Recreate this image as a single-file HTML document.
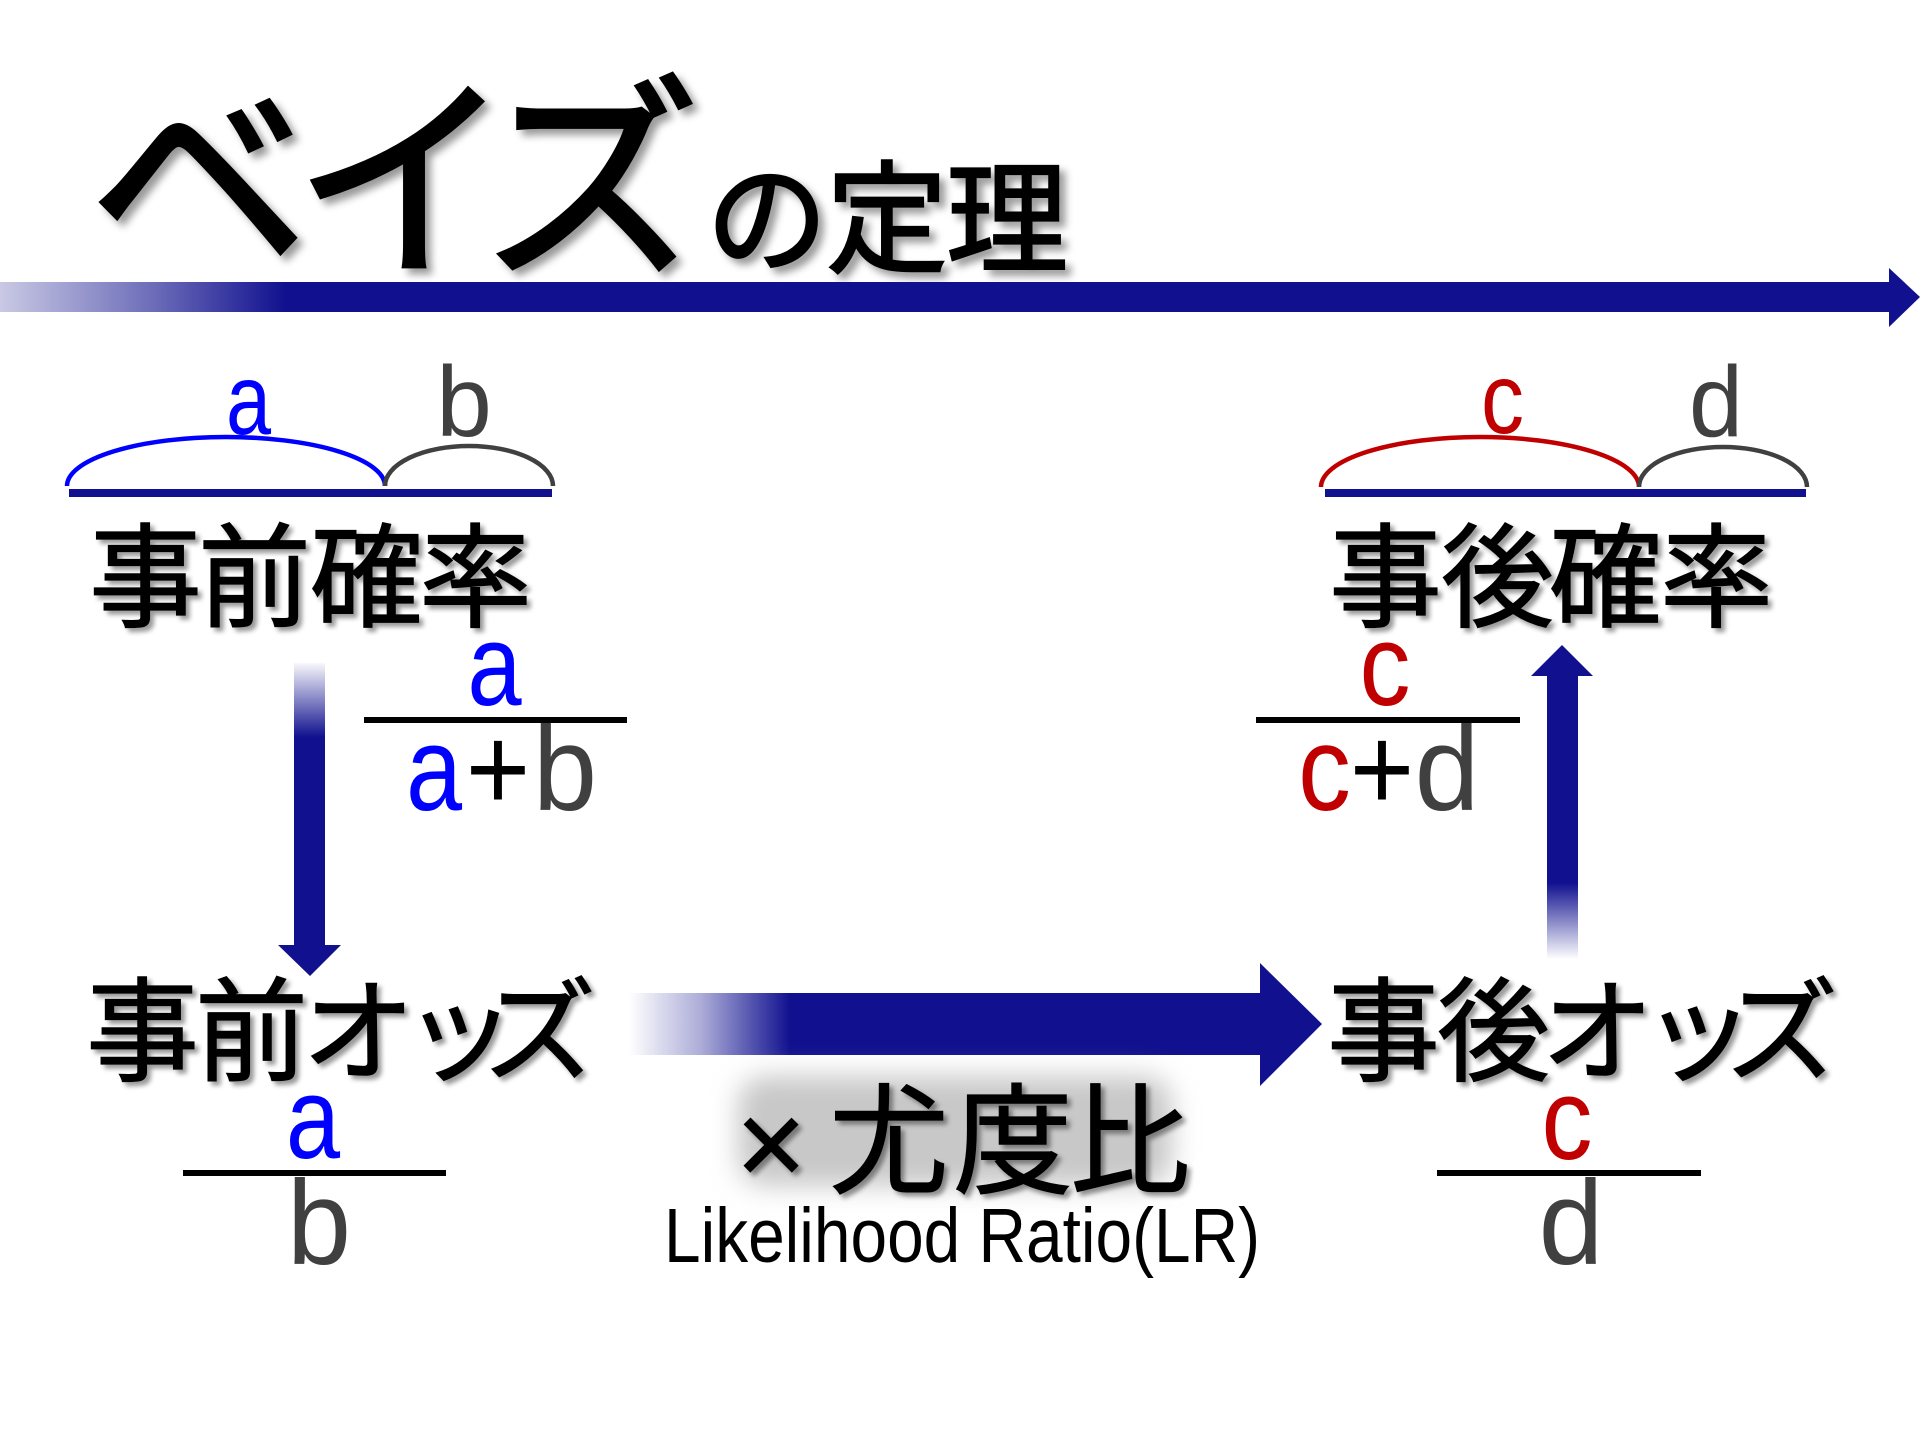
<!DOCTYPE html>
<html>
<head>
<meta charset="utf-8">
<style>
  html,body{margin:0;padding:0;background:#fff;}
  svg{display:block;}
  .lt{font-family:"Liberation Sans",sans-serif;}
</style>
</head>
<body>
<svg width="1920" height="1440" viewBox="0 0 1920 1440" xmlns="http://www.w3.org/2000/svg">
  <defs>
    <linearGradient id="gT" gradientUnits="userSpaceOnUse" x1="0" y1="0" x2="285" y2="0">
      <stop offset="0" stop-color="#c9c9e4"/>
      <stop offset="0.55" stop-color="#6a6ab8"/>
      <stop offset="1" stop-color="#11118f"/>
    </linearGradient>
    <linearGradient id="gH" gradientUnits="userSpaceOnUse" x1="629" y1="0" x2="790" y2="0">
      <stop offset="0" stop-color="#11118f" stop-opacity="0"/>
      <stop offset="0.45" stop-color="#11118f" stop-opacity="0.35"/>
      <stop offset="1" stop-color="#11118f" stop-opacity="1"/>
    </linearGradient>
    <linearGradient id="gD" gradientUnits="userSpaceOnUse" x1="0" y1="663" x2="0" y2="737">
      <stop offset="0" stop-color="#11118f" stop-opacity="0.03"/>
      <stop offset="1" stop-color="#11118f" stop-opacity="1"/>
    </linearGradient>
    <linearGradient id="gU" gradientUnits="userSpaceOnUse" x1="0" y1="957" x2="0" y2="883">
      <stop offset="0" stop-color="#11118f" stop-opacity="0.03"/>
      <stop offset="1" stop-color="#11118f" stop-opacity="1"/>
    </linearGradient>
    <filter id="shT" x="-10%" y="-10%" width="130%" height="130%">
      <feDropShadow dx="6" dy="6" stdDeviation="4" flood-color="#000" flood-opacity="0.4"/>
    </filter>
    <filter id="sh" x="-10%" y="-10%" width="130%" height="130%">
      <feDropShadow dx="4" dy="4" stdDeviation="2.5" flood-color="#000" flood-opacity="0.4"/>
    </filter>
    <filter id="blur" x="-30%" y="-60%" width="160%" height="220%">
      <feGaussianBlur stdDeviation="13"/>
    </filter>
  </defs>

  <!-- Title -->
  <g filter="url(#shT)" fill="#000" stroke="#000">
    <text x="89 293 481" y="260" font-size="220" font-family="Liberation Sans, Noto Sans CJK JP, sans-serif" font-weight="400" stroke-width="3">ベイズ</text>
    <text x="706 826 946" y="263" font-size="122" font-family="Liberation Sans, Noto Sans CJK JP, sans-serif" font-weight="400" stroke-width="2.2">の定理</text>
  </g>

  <!-- Title arrow -->
  <rect x="0" y="282" width="1890" height="30" fill="url(#gT)"/>
  <polygon points="1889,268 1920,297 1889,327" fill="#11118f"/>

  <!-- Left top brackets -->
  <path d="M67,486 A159,49 0 0 1 385,486" fill="none" stroke="#0000ff" stroke-width="4.5"/>
  <path d="M385,486 A84,40 0 0 1 553,486" fill="none" stroke="#404040" stroke-width="4.5"/>
  <rect x="69" y="489" width="483" height="8" fill="#11118f"/>
  <text class="lt" transform="translate(248.5,434) scale(0.81,1)" text-anchor="middle" font-size="100" fill="#0000ff">a</text>
  <text class="lt" transform="translate(464,436)" text-anchor="middle" font-size="100" fill="#404040">b</text>

  <!-- Right top brackets -->
  <path d="M1321,487 A159,50 0 0 1 1639,487" fill="none" stroke="#c00000" stroke-width="4.5"/>
  <path d="M1639,487 A84,40 0 0 1 1807,487" fill="none" stroke="#404040" stroke-width="4.5"/>
  <rect x="1325" y="489" width="481" height="8" fill="#11118f"/>
  <text class="lt" transform="translate(1502.5,433) scale(0.86,1)" text-anchor="middle" font-size="100" fill="#c00000">c</text>
  <text class="lt" transform="translate(1716,436) scale(0.97,1)" text-anchor="middle" font-size="100" fill="#404040">d</text>

  <!-- Probability labels -->
  <g filter="url(#sh)" fill="#000" stroke="#000" stroke-width="1.2">
    <text x="89 198 310 419" y="618" font-size="113" font-family="Liberation Sans, Noto Sans CJK JP, sans-serif" font-weight="400">事前確率</text>
    <text x="1329 1441 1549 1660" y="618" font-size="113" font-family="Liberation Sans, Noto Sans CJK JP, sans-serif" font-weight="400">事後確率</text>
  </g>

  <!-- Left fraction a/(a+b) -->
  <text class="lt" transform="translate(494.5,705) scale(0.84,1)" text-anchor="middle" font-size="116" fill="#0000ff">a</text>
  <rect x="364" y="717" width="263" height="6" fill="#000"/>
  <text class="lt" transform="translate(434,810) scale(0.84,1)" text-anchor="middle" font-size="120" fill="#0000ff">a</text>
  <text class="lt" transform="translate(498,810) scale(0.92,1)" text-anchor="middle" font-size="120" fill="#000">+</text>
  <text class="lt" transform="translate(565,810) scale(0.96,1)" text-anchor="middle" font-size="120" fill="#404040">b</text>

  <!-- Right fraction c/(c+d) -->
  <text class="lt" transform="translate(1385,705) scale(0.88,1)" text-anchor="middle" font-size="116" fill="#c00000">c</text>
  <rect x="1256" y="717" width="264" height="6" fill="#000"/>
  <text class="lt" transform="translate(1324.5,810) scale(0.88,1)" text-anchor="middle" font-size="120" fill="#c00000">c</text>
  <text class="lt" transform="translate(1382,810) scale(0.92,1)" text-anchor="middle" font-size="120" fill="#000">+</text>
  <text class="lt" transform="translate(1447,810) scale(0.97,1)" text-anchor="middle" font-size="120" fill="#404040">d</text>

  <!-- Down arrow (left) -->
  <rect x="294" y="663" width="31" height="283" fill="url(#gD)"/>
  <polygon points="278,945 341,945 310,976" fill="#11118f"/>

  <!-- Up arrow (right) -->
  <rect x="1547" y="675" width="31" height="283" fill="url(#gU)"/>
  <polygon points="1531,676 1593,676 1562,645" fill="#11118f"/>

  <!-- Middle horizontal arrow -->
  <rect x="629" y="993" width="632" height="62" fill="url(#gH)"/>
  <polygon points="1260,963 1260,1086 1322,1024" fill="#11118f"/>

  <!-- Odds labels -->
  <g filter="url(#sh)" fill="#000" stroke="#000" stroke-width="1.2">
    <text x="86 195 302 403 483" y="1072" font-size="113" font-family="Liberation Sans, Noto Sans CJK JP, sans-serif" font-weight="400">事前オッズ</text>
    <text x="1327 1437 1541 1642 1725" y="1072" font-size="113" font-family="Liberation Sans, Noto Sans CJK JP, sans-serif" font-weight="400">事後オッズ</text>
  </g>

  <!-- Bottom-left fraction a/b -->
  <text class="lt" transform="translate(313,1158) scale(0.84,1)" text-anchor="middle" font-size="116" fill="#0000ff">a</text>
  <rect x="183" y="1170" width="263" height="6" fill="#000"/>
  <text class="lt" transform="translate(319,1264) scale(0.96,1)" text-anchor="middle" font-size="120" fill="#404040">b</text>

  <!-- Bottom-right fraction c/d -->
  <text class="lt" transform="translate(1567,1159) scale(0.88,1)" text-anchor="middle" font-size="116" fill="#c00000">c</text>
  <rect x="1437" y="1170" width="264" height="6" fill="#000"/>
  <text class="lt" transform="translate(1571,1264) scale(0.97,1)" text-anchor="middle" font-size="120" fill="#404040">d</text>

  <!-- Likelihood ratio label with glow -->
  <rect x="738" y="1076" width="434" height="110" rx="28" fill="#c8c8c8" filter="url(#blur)"/>
  <g filter="url(#sh)" fill="#000" stroke="#000" stroke-width="1.2">
    <text x="771" y="1185" text-anchor="middle" font-size="120" font-family="Liberation Sans, Noto Sans CJK JP, sans-serif" font-weight="400">×</text>
    <text x="829 953 1070" y="1184" font-size="120" font-family="Liberation Sans, Noto Sans CJK JP, sans-serif" font-weight="400">尤度比</text>
  </g>
  <text class="lt" x="664" y="1262" font-size="77" fill="#000" textLength="596" lengthAdjust="spacingAndGlyphs">Likelihood Ratio(LR)</text>
</svg>
</body>
</html>
